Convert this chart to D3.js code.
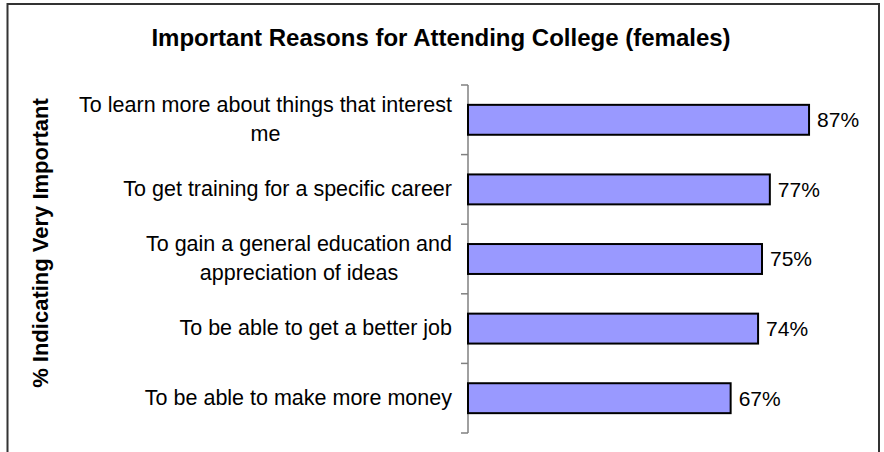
<!DOCTYPE html>
<html>
<head>
<meta charset="utf-8">
<script src="https://cdn.jsdelivr.net/npm/d3@7"></script>
<style>
  body { margin: 0; background: #fff; }
  svg { display: block; font-family: "Liberation Sans", Arial, sans-serif; }
</style>
</head>
<body>
<svg id="chart" width="884" height="452"></svg>
<script>
const chartTitle = "Important Reasons for Attending College (females)";
const axisTitle = "% Indicating Very Important";
const reasons = [
  ["To learn more about things that interest", "me"],
  ["To get training for a specific career"],
  ["To gain a general education and", "appreciation of ideas"],
  ["To be able to get a better job"],
  ["To be able to make more money"]
];
const percents = [87, 77, 75, 74, 67];

const svg = d3.select('#chart');

// outer frame (bottom edge runs off the picture)
svg.append("path")
    .attr("d", "M7.5,460 V4 H879 V460")
    .attr("fill", "none")
    .attr("stroke", "#333")
    .attr("stroke-width", 2);

svg.append("text")
    .attr("x", 441)
    .attr("y", 46)
    .attr("text-anchor", "middle")
    .attr("font-size", 24)
    .attr("font-weight", "bold")
    .text(chartTitle);

const x = d3.scaleLinear().domain([0, 100]).range([468, 860]);
const y = d3.scaleBand()
    .domain(d3.range(reasons.length))
    .range([85, 433])
    .paddingInner(0.57)
    .paddingOuter(0.285);

// category axis: grey line with outward ticks between the bars
const step = y.step();
const bounds = d3.range(reasons.length + 1).map(i => 85 + i * step);
const ax = svg.append("g");
ax.append("line")
    .attr("x1", 468).attr("x2", 468)
    .attr("y1", 85).attr("y2", 433)
    .attr("stroke", "#808080").attr("stroke-width", 1.5);
ax.selectAll(".tick").data(bounds).join("line")
    .attr("x1", 461).attr("x2", 468)
    .attr("y1", d => d).attr("y2", d => d)
    .attr("stroke", "#808080").attr("stroke-width", 1.5);

svg.selectAll(".bar").data(percents).join("rect")
    .attr("class", "bar")
    .attr("x", x(0))
    .attr("y", (d, i) => y(i))
    .attr("width", d => x(d) - x(0))
    .attr("height", y.bandwidth())
    .attr("fill", "#9999ff")
    .attr("stroke", "#000")
    .attr("stroke-width", 2);

svg.selectAll(".val").data(percents).join("text")
    .attr("class", "val")
    .attr("x", d => x(d) + 8)
    .attr("y", (d, i) => y(i) + y.bandwidth() / 2)
    .attr("dy", "0.35em")
    .attr("font-size", 21)
    .text(d => d + "%");

// category labels: centred lines, block right-aligned to the axis
const lineGap = 29;
svg.selectAll(".cat").data(reasons).join("g")
    .attr("class", "cat")
    .each(function(lines, i) {
      const g = d3.select(this);
      const cy = y(i) + y.bandwidth() / 2 - 1;
      const t = g.selectAll("text").data(lines).join("text")
          .attr("y", (d, j) => cy + (j - (lines.length - 1) / 2) * lineGap)
          .attr("dy", "0.35em")
          .attr("font-size", 21.5)
          .attr("text-anchor", "middle")
          .text(d => d);
      const w = d3.max(t.nodes(), n => n.getComputedTextLength());
      t.attr("x", 452 - w / 2);
    });

svg.append("text")
    .attr("transform", "translate(40,243) rotate(-90)")
    .attr("text-anchor", "middle")
    .attr("dy", "0.35em")
    .attr("font-size", 22)
    .attr("font-weight", "bold")
    .text(axisTitle);
</script>
</body>
</html>
